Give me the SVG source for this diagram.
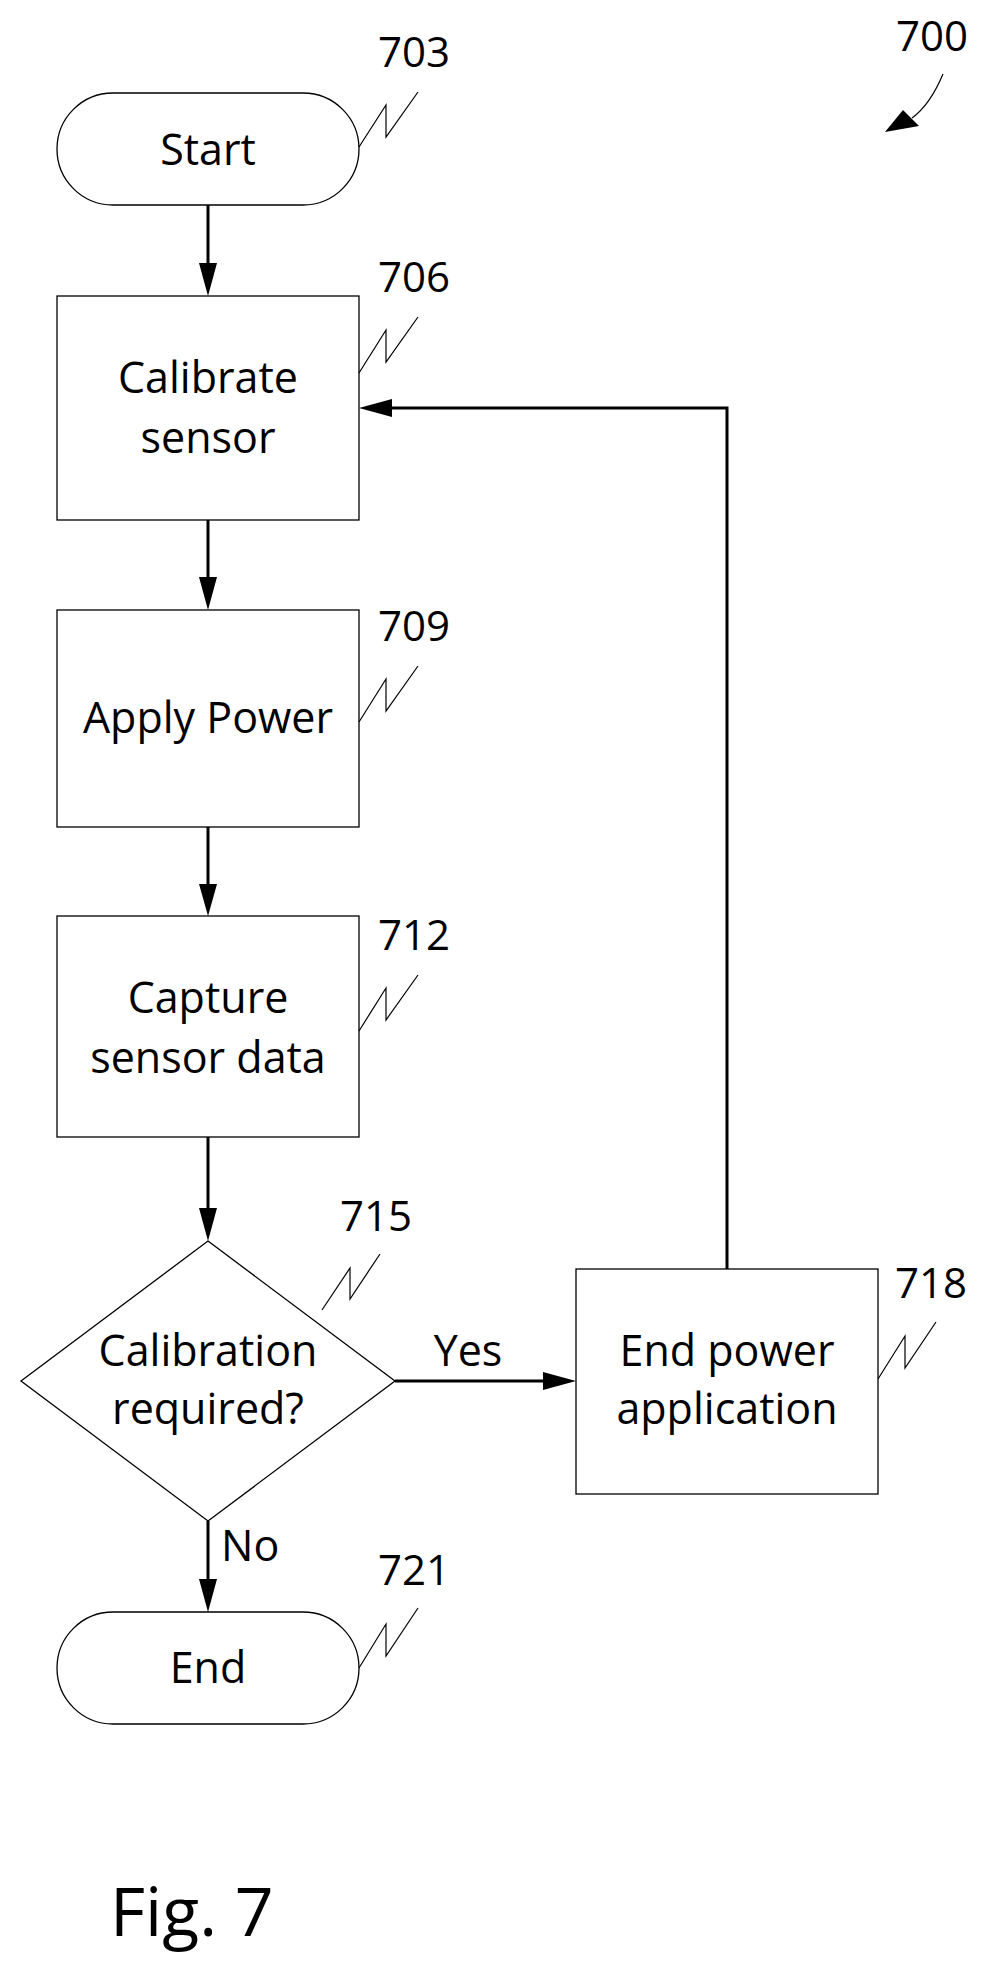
<svg xmlns="http://www.w3.org/2000/svg" width="994" height="1967" viewBox="0 0 994 1967">
<style>
.s{fill:#fff;stroke:#000;stroke-width:1.3}
.t{font-family:"Open Sans","Liberation Sans",sans-serif;font-size:43px;text-anchor:middle;fill:#000}
.n{font-family:"Open Sans","Liberation Sans",sans-serif;font-size:42px;fill:#000}
.c{fill:none;stroke:#000;stroke-width:3}
.z{fill:none;stroke:#000;stroke-width:1.2}
</style>
<g id="connectors">
<line class="c" x1="208" y1="205" x2="208" y2="268"/><path d="M199,263L217,263L208,296z"/>
<line class="c" x1="208" y1="520" x2="208" y2="582"/><path d="M199,577L217,577L208,610z"/>
<line class="c" x1="208" y1="827" x2="208" y2="889"/><path d="M199,884L217,884L208,916z"/>
<line class="c" x1="208" y1="1137" x2="208" y2="1213"/><path d="M199,1208L217,1208L208,1241z"/>
<line class="c" x1="208" y1="1521" x2="208" y2="1584"/><path d="M199,1579L217,1579L208,1612z"/>
<line class="c" x1="395" y1="1381" x2="548" y2="1381"/><path d="M543,1372L543,1390L576,1381z"/>
<polyline class="c" points="727,1269 727,408 387,408"/><path d="M392,399L392,417L359,408z"/>
<text class="t" x="468" y="1366">Yes</text>
<text class="t" x="221" y="1561" style="text-anchor:start">No</text>
</g>
<g id="n703"><rect class="s" x="57" y="93" width="302" height="112" rx="56"/><text class="t" x="208" y="165">Start</text></g>
<g id="n706"><rect class="s" x="57" y="296" width="302" height="224"/><text class="t" x="208" y="393">Calibrate</text><text class="t" x="208" y="453">sensor</text></g>
<g id="n709"><rect class="s" x="57" y="610" width="302" height="217"/><text class="t" x="208" y="733">Apply Power</text></g>
<g id="n712"><rect class="s" x="57" y="916" width="302" height="221"/><text class="t" x="208" y="1013">Capture</text><text class="t" x="208" y="1073">sensor data</text></g>
<g id="n715"><polygon class="s" points="208,1241 395,1381 208,1521 21,1381"/><text class="t" x="208" y="1366">Calibration</text><text class="t" x="208" y="1424">required?</text></g>
<g id="n718"><rect class="s" x="576" y="1269" width="302" height="225"/><text class="t" x="727" y="1366">End power</text><text class="t" x="727" y="1424">application</text></g>
<g id="n721"><rect class="s" x="57" y="1612" width="302" height="112" rx="56"/><text class="t" x="208" y="1683">End</text></g>
<g id="labels">
<text class="n" x="378" y="67">703</text><path class="z" d="M359,147L386,105L386,137L418,92"/>
<text class="n" x="378" y="292">706</text><path class="z" d="M359,373L386,330L386,362L418,317"/>
<text class="n" x="378" y="641">709</text><path class="z" d="M359,722L386,679L386,711L418,666"/>
<text class="n" x="378" y="950">712</text><path class="z" d="M359,1031L386,988L386,1020L418,975"/>
<text class="n" x="340" y="1231">715</text><path class="z" d="M322,1310L350,1268L350,1299L380,1254"/>
<text class="n" x="895" y="1298">718</text><path class="z" d="M878,1379L905,1336L905,1368L936,1322"/>
<text class="n" x="378" y="1585">721</text><path class="z" d="M359,1668L386,1624L386,1656L418,1608"/>
<text class="n" x="896" y="51">700</text><path class="z" d="M943,74Q930,105 912,118"/><path d="M885,132L903,110L919,126z"/>
<text class="n" x="110" y="1936" style="font-size:68px">Fig. 7</text>
</g>
</svg>
